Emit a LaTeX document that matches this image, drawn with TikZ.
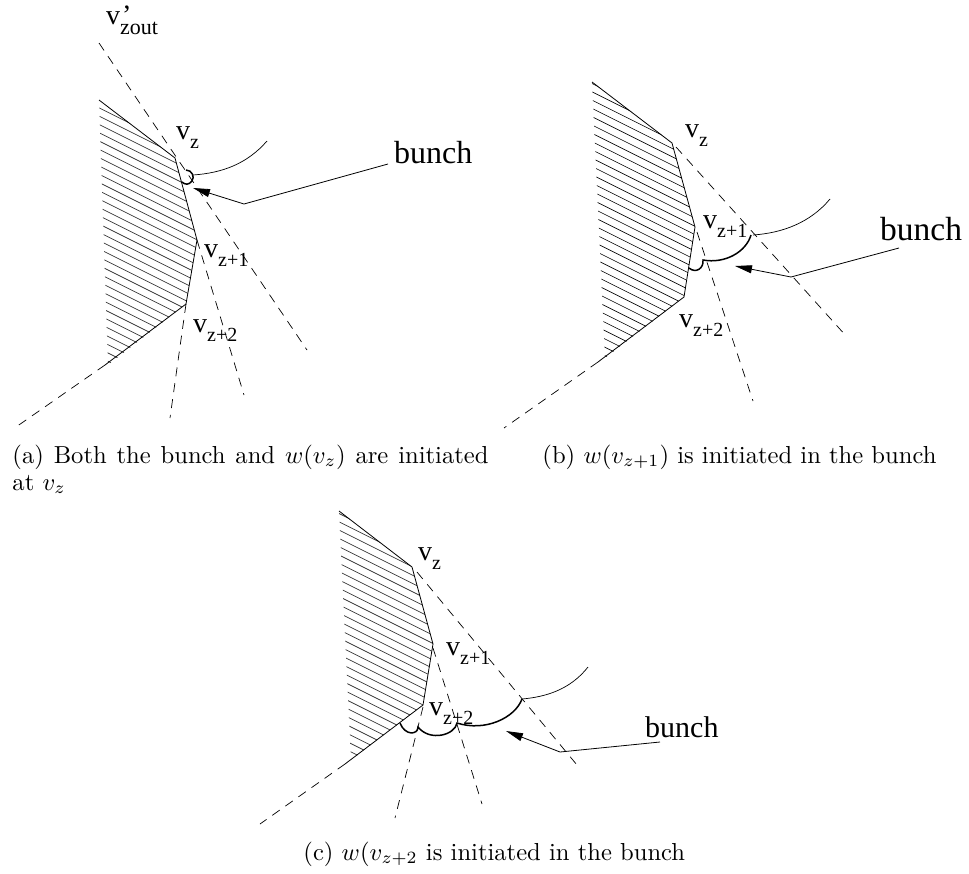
\documentclass[tikz,border=0pt]{standalone}
\usepackage{amsmath}
\usepackage{fontspec}
\setmainfont{Liberation Serif}
\newfontfamily\captionfont{Latin Modern Roman}
\usepackage{tikz}
\usetikzlibrary{arrows.meta}

\newcommand{\vlabel}[1]{{\fontsize{28}{28}\selectfont v}\raisebox{-9pt}{\fontsize{20}{20}\selectfont #1}}

\tikzset{
  boundary/.style={line width=0.8pt},
  ray/.style={line width=0.7pt, dash pattern=on 9pt off 7pt},
  hatch/.style={line width=0.6pt},
  fadedhatch/.style={line width=0.7pt, black!80},
  wave/.style={line width=0.7pt},
  bunchwave/.style={line width=1.5pt},
  pointer/.style={line width=0.8pt, -{Triangle[length=17pt,width=8pt]}},
  vertexlabel/.style={anchor=base west, inner sep=0pt},
  bunchlabel/.style={anchor=base west, inner sep=0pt, font=\fontsize{32}{32}\selectfont},
  captionlabel/.style={anchor=base west, inner sep=0pt, scale=2.46, font=\captionfont}
}

\begin{document}
\begin{tikzpicture}[x=1pt, y=-1pt]
    \useasboundingbox (0, 0) rectangle (969, 873);

    % panel (a)
    \begin{scope}
      \clip (99, 100) -- (175, 158) -- (197, 240) -- (186, 304) -- (108, 365) -- cycle;

      \foreach \ypos in {56, 64.3, ..., 368} {
        \draw [fadedhatch] (95, \ypos) -- ++(120, 60);
      }
    \end{scope}

    \draw [boundary] (99, 100) -- (175, 158) -- (197, 240) -- (186, 304) -- (105, 365);

    \draw [ray] (105, 365) -- (16, 427);

    \draw [ray] (99, 43) -- (307, 350);

    \draw [ray] (197, 240) -- (244, 395);

    \draw [ray] (186, 304) -- (170, 418);

    \draw [wave] (193, 175) .. controls (222, 173) and (247, 164) .. (267, 141);

    \draw [bunchwave] (186, 170) .. controls (192, 170) and (195, 177) .. (192, 181) .. controls (189, 185) and (185, 185) .. (182, 182);

    \draw [pointer] (388, 164) -- (244, 204) -- (193, 188);

    \node [vertexlabel] (zout) at (106, 24) {{\fontsize{28}{28}\selectfont v\rlap{\hspace{2pt}'}}\raisebox{-10pt}{\fontsize{22}{22}\selectfont zout}};

    \node [vertexlabel] (az) at (176, 139) {\vlabel{z}};

    \node [vertexlabel] (azone) at (204, 257) {\vlabel{z+1}};

    \node [vertexlabel] (aztwo) at (193, 332) {\vlabel{z+2}};

    \node [bunchlabel] (abunch) at (394, 163) {bunch};

    \node [captionlabel] (acaption) at (12, 463) {\makebox[193.5pt][s]{(a) Both the bunch and $w(v_z)$ are initiated}};

    \node [captionlabel] (acaptiontwo) at (12, 490) {at $v_z$};


    % panel (b)
    \begin{scope}
      \clip (592, 82) -- (672, 143) -- (695, 227) -- (684, 297) -- (605, 358) -- cycle;

      \foreach \ypos in {40, 48.3, ..., 352} {
        \draw [hatch] (588, \ypos) -- ++(120, 60);
      }
    \end{scope}

    \draw [boundary] (592, 82) -- (672, 143) -- (695, 227) -- (684, 297) -- (598, 362);

    \draw [ray] (598, 362) -- (504, 428);

    \draw [ray] (676, 147) -- (847, 337);

    \draw [ray] (697, 232) -- (753, 401);

    \draw [wave] (753, 235) .. controls (782, 233) and (810, 223) .. (830, 199);

    \draw [bunchwave] (751, 235) .. controls (746, 252) and (725, 264) .. (703, 260) .. controls (704, 268) and (696, 274) .. (689, 268);

    \draw [pointer] (899, 248) -- (791, 277) -- (735, 266);

    \node [vertexlabel] (bz) at (685, 137) {\vlabel{z}};

    \node [vertexlabel] (bzone) at (703, 228) {\vlabel{z+1}};

    \node [vertexlabel] (bztwo) at (679, 327) {\vlabel{z+2}};

    \node [bunchlabel, font=\fontsize{33.5}{33.5}\selectfont] (bbunch) at (880, 240) {bunch};

    \node [captionlabel] (bcaption) at (542, 463) {(b) $w(v_{z+1})$ is initiated in the bunch};


    % panel (c)
    \begin{scope}
      \clip (339, 511) -- (412, 567) -- (433, 644) -- (423, 705) -- (351, 760) -- cycle;

      \foreach \ypos in {470, 478.3, ..., 760} {
        \draw [fadedhatch] (335, \ypos) -- ++(120, 60);
      }
    \end{scope}

    \draw [boundary] (339, 511) -- (412, 567) -- (433, 644) -- (423, 705) -- (345, 764);

    \draw [ray] (345, 764) -- (260, 824);

    \draw [ray] (417, 572) -- (577, 765);

    \draw [ray] (433, 648) -- (482, 804);

    \draw [ray] (423, 707) -- (395, 818);

    \draw [wave] (522, 699) .. controls (545, 697) and (570, 690) .. (588, 667);

    \draw [bunchwave] (522, 699) .. controls (515, 718) and (485, 732) .. (457, 723) .. controls (455, 735) and (430, 742) .. (418, 727) .. controls (418, 735) and (405, 736) .. (400, 723);

    \draw [pointer] (660, 742) -- (560, 752) -- (506, 731);

    \node [vertexlabel] (cz) at (418, 560) {\vlabel{z}};

    \node [vertexlabel] (czone) at (446, 655) {\vlabel{z+1}};

    \node [vertexlabel] (cztwo) at (429, 715) {\vlabel{z+2}};

    \node [bunchlabel, font=\fontsize{30}{30}\selectfont] (cbunch) at (645, 737) {bunch};

    \node [captionlabel] (ccaption) at (303, 860) {(c) $w(v_{z+2}$ is initiated in the bunch};

  \end{tikzpicture}
\end{document}
